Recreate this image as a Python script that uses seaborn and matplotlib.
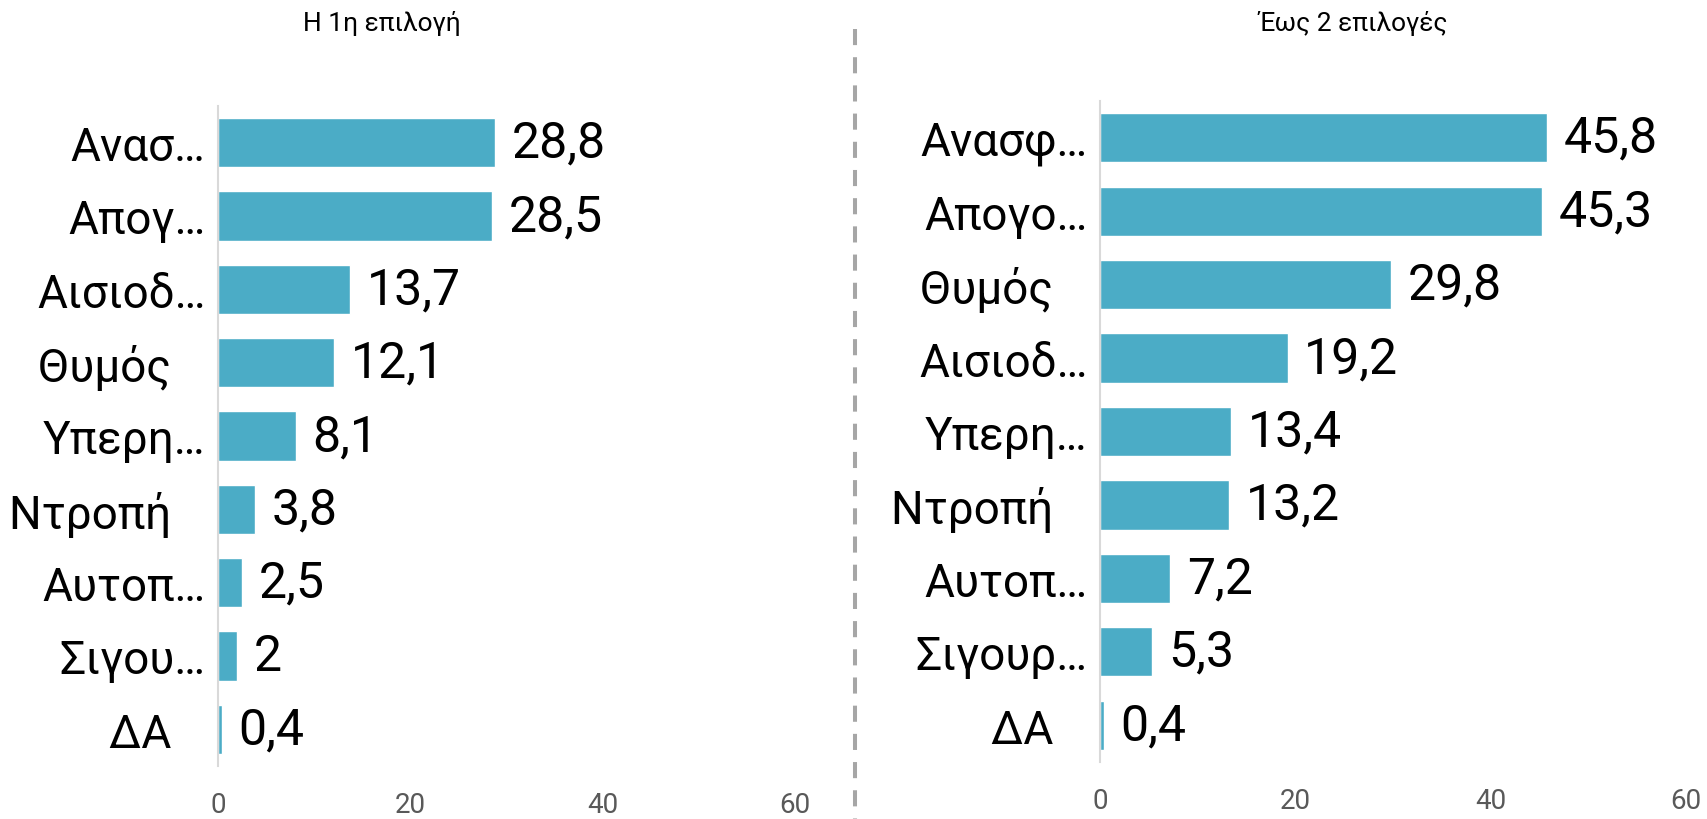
import matplotlib
matplotlib.use("Agg")
import matplotlib.pyplot as plt
from matplotlib.lines import Line2D
import seaborn as sns
import pandas as pd

# ---- data ----
left_title = "Η 1η επιλογή"
left_cats = ["Ανασ…", "Απογ…", "Αισιοδ…", "Θυμός\u00a0\u00a0\u00a0", "Υπερη…",
             "Ντροπή\u00a0\u00a0\u00a0", "Αυτοπ…", "Σιγου…", "ΔΑ\u00a0\u00a0\u00a0"]
left_vals = [28.8, 28.5, 13.7, 12.1, 8.1, 3.8, 2.5, 2, 0.4]

right_title = "Έως 2 επιλογές"
right_cats = ["Ανασφ…", "Απογο…", "Θυμός\u00a0\u00a0\u00a0", "Αισιοδ…", "Υπερη…",
              "Ντροπή\u00a0\u00a0\u00a0", "Αυτοπ…", "Σιγουρ…", "ΔΑ\u00a0\u00a0\u00a0"]
right_vals = [45.8, 45.3, 29.8, 19.2, 13.4, 13.2, 7.2, 5.3, 0.4]

x_ticks = [0, 20, 40, 60]

# ---- style ----
sns.set_style("white")
plt.rcParams["font.family"] = ["Roboto", "DejaVu Sans"]

BAR = "#4BACC6"
W, H = 1707, 820
fig = plt.figure(figsize=(W / 100, H / 100), dpi=100)

def px_axes(x0, x1, y0, y1):
    return fig.add_axes([x0 / W, 1 - y1 / H, (x1 - x0) / W, (y1 - y0) / H])

def panel(ax, cats, vals):
    df = pd.DataFrame({"cat": cats, "val": vals})
    sns.barplot(data=df, y="cat", x="val", orient="h", color=BAR,
                saturation=1, width=0.67, ax=ax)
    ax.set_xlim(0, 60)
    ax.set_ylim(8.5, -0.5)
    ax.set_xticks(x_ticks)
    ax.set_xticklabels([str(t) for t in x_ticks])
    ax.set_xlabel("")
    ax.set_ylabel("")
    for s in ["top", "right", "bottom"]:
        ax.spines[s].set_visible(False)
    ax.spines["left"].set_color("#d9d9d9")
    ax.spines["left"].set_linewidth(1.5)
    ax.tick_params(axis="y", length=0, pad=9, labelsize=33, labelcolor="black")
    ax.tick_params(axis="x", length=0, pad=18, labelsize=20, labelcolor="#595959")
    labels = [f"{v:g}".replace(".", ",") for v in vals]
    ax.bar_label(ax.containers[0], labels=labels, padding=12,
                 fontsize=36, color="black")

axL = px_axes(218, 795, 107, 767)
panel(axL, left_cats, left_vals)
axR = px_axes(1100, 1686, 102, 763)
panel(axR, right_cats, right_vals)

fig.text(382 / W, 1 - 24 / H, left_title, ha="center", va="center",
         fontsize=19, color="black")
fig.text(1353 / W, 1 - 24 / H, right_title, ha="center", va="center",
         fontsize=19, color="black")

fig.add_artist(Line2D([855 / W, 855 / W], [1 - 30 / H, 0],
                      transform=fig.transFigure, color="#a6a6a6",
                      linewidth=2.9, dashes=(4, 3)))

fig.savefig("out.png", dpi=100)
